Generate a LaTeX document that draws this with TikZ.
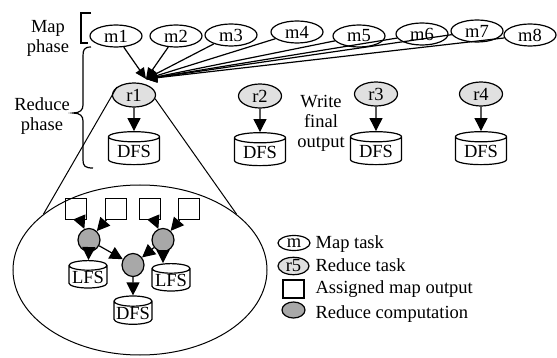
\documentclass[tikz,border=0pt]{standalone}
\usepackage{fontspec}
\setmainfont{Liberation Serif}
\usetikzlibrary{shapes.geometric,arrows.meta}
\definecolor{cinzaclaro}{rgb}{0.88,0.88,0.88}
\definecolor{cinza}{rgb}{0.66,0.66,0.66}

\begin{document}
\begin{tikzpicture}[x=1pt,y=-1pt,line width=1.2pt,
	font=\fontsize{18.5}{20}\selectfont,
	mapa/.style={ellipse,draw,inner sep=0pt,minimum width=52pt,minimum height=22pt},
	reduz/.style={ellipse,draw,fill=cinzaclaro,inner sep=0pt,minimum width=43pt,minimum height=24pt},
	comp/.style={ellipse,draw,fill=cinza,inner sep=0pt,minimum width=22pt,minimum height=23pt},
	bloco/.style={rectangle,draw,inner sep=0pt,minimum size=21pt},
	disco/.style={cylinder,shape border rotate=90,draw,aspect=0.3,inner sep=0pt},
	seta/.style={-{Triangle[length=13pt,width=13pt]}},
	setamapa/.style={-{Triangle[length=11pt,width=10pt]}}]
			%Config
			\useasboundingbox (0,0) rectangle (557,358);
			\node[align=center] (tmap) at (48,38) {Map\\phase};
			\node[align=center] (tred) at (42,116) {Reduce\\phase};
			\draw (91,13) -- (81,13) -- (81,43) -- (88,43);
			\draw (91,47) .. controls (84,47) and (83,50) .. (83,56) -- (83,105) .. controls (83,110) and (80,113) .. (73,113) .. controls (80,113) and (83,116) .. (83,121) -- (83,160) .. controls (83,166) and (85,168) .. (93,168);

			%Mapas
			\foreach \i/\x/\y in {1/116/36,2/176/36,3/231/35,4/297/32,5/359/36,6/422/34,7/477/31,8/530/35}
				\node[mapa] (m\i) at (\x,\y) {m\i};
			\coordinate (junta) at (146,79);
			\foreach \i in {1,...,8}
				\draw[setamapa] (m\i) -- (junta);

			%Reduces e saida
			\node[reduz] (r1) at (134,95) {r1};
			\node[reduz] (r2) at (260,96) {r2};
			\node[reduz] (r3) at (376,94) {r3};
			\node[reduz] (r4) at (481,94) {r4};
			\node[disco,minimum width=51pt,minimum height=33pt] (d1) at (134,151) {DFS};
			\node[disco,minimum width=51pt,minimum height=33pt] (d2) at (260,152) {DFS};
			\node[disco,minimum width=51pt,minimum height=33pt] (d3) at (376,151) {DFS};
			\node[disco,minimum width=51pt,minimum height=33pt] (d4) at (481,151) {DFS};
			\foreach \i in {1,...,4}
				\draw[seta] (r\i) -- (d\i);
			\node[align=center] (tsai) at (321,123) {Write\\final\\output};

			%Zoom do r1
			\node[ellipse,draw,line width=1pt,inner sep=0pt,minimum width=254pt,minimum height=170pt] (lupa) at (140,270) {};
			\draw[line width=1pt] (r1.155) -- (lupa.150);
			\draw[line width=1pt] (r1.-10) -- (lupa.30);
			\node[bloco] (q1) at (76,209) {};
			\node[bloco] (q2) at (116,209) {};
			\node[bloco] (q3) at (150,209) {};
			\node[bloco] (q4) at (189,209) {};
			\node[comp] (c1) at (89,240) {};
			\node[comp] (c2) at (163,240) {};
			\node[comp] (c3) at (133,265) {};
			\node[disco,minimum width=38pt,minimum height=27pt] (l1) at (88,277) {LFS};
			\node[disco,minimum width=38pt,minimum height=27pt] (l2) at (171,280) {LFS};
			\node[disco,minimum width=38pt,minimum height=24pt] (d5) at (133,313) {DFS};
			\draw[seta] (q1) -- (c1);
			\draw[seta] (q2) -- (c1);
			\draw[seta] (q3) -- (c2);
			\draw[seta] (q4) -- (c2);
			\draw[seta] (c1) -- (l1);
			\draw[seta] (c2.south) -- (c2.south |- l2.north);
			\draw[seta] (c1) -- (c3);
			\draw[seta] (c2) -- (c3);
			\draw[seta] (c3) -- (d5);

			%Legenda
			\node[mapa,minimum width=32pt,minimum height=15pt] (lm) at (294,243) {m};
			\node[reduz,minimum width=31pt,minimum height=15pt] (lr) at (293.5,266) {r5};
			\node[bloco,minimum width=21pt,minimum height=18pt] (lq) at (293.5,289) {};
			\node[comp,minimum width=23pt,minimum height=16pt] (lc) at (293.5,310) {};
			\node[anchor=base west,inner sep=0pt] (tm) at (315,248) {Map task};
			\node[anchor=base west,inner sep=0pt] (tr) at (315,272) {Reduce task};
			\node[anchor=base west,inner sep=0pt] (tq) at (315,294) {Assigned map output};
			\node[anchor=base west,inner sep=0pt] (tc) at (315,318) {Reduce computation};
		\end{tikzpicture}
\end{document}
